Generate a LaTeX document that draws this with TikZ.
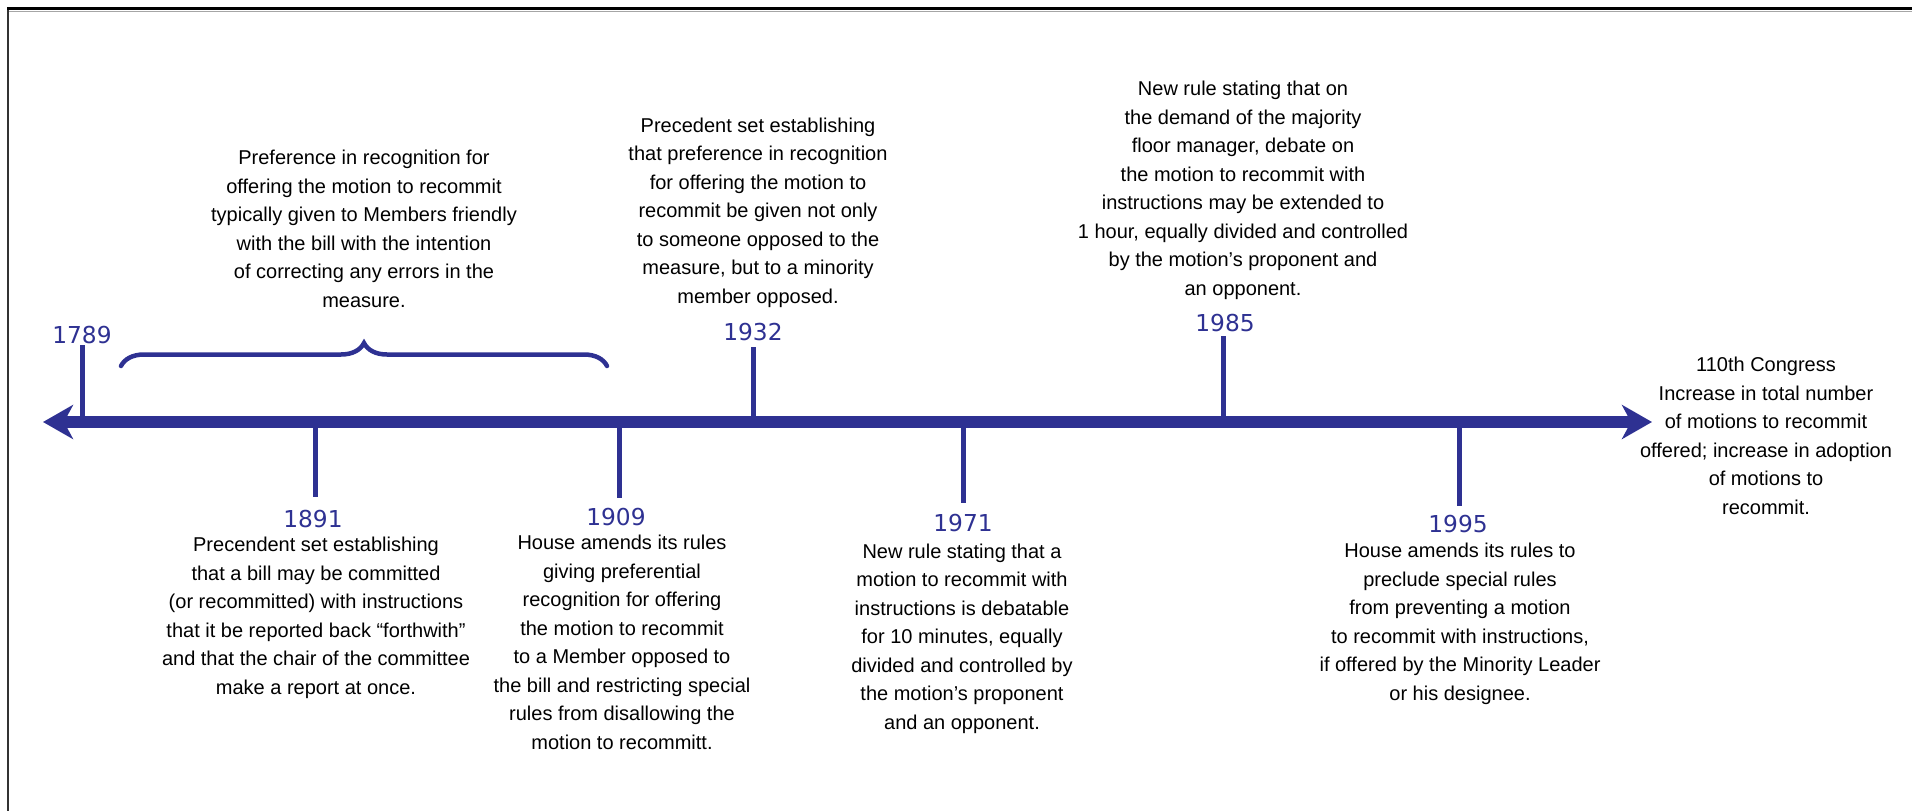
\documentclass[tikz,border=0pt]{standalone}
\usepackage{fontspec}
\setmainfont{Liberation Sans}
\newfontfamily\yearfont{DejaVu Sans}
\usetikzlibrary{arrows.meta,decorations.pathreplacing}
\definecolor{tlblue}{RGB}{46,49,146}

\begin{document}
\begin{tikzpicture}[x=1pt,y=-1pt,
  note/.style={align=center,inner sep=0pt,anchor=base,font=\fontsize{20}{28.5}\selectfont},
  year/.style={inner sep=0pt,anchor=base,text=tlblue,font=\yearfont\fontsize{23.3}{28}\selectfont},
  tick/.style={draw=tlblue,line width=5pt},
  axis/.style={draw=tlblue,line width=12pt,
    {Stealth[length=30pt,width=34pt,inset=9pt]}-{Stealth[length=30pt,width=34pt,inset=9pt]}}]
\useasboundingbox (0,0) rectangle (1912,811);
\draw[black!80,line width=1.5pt] (8,9) -- (8,811);
\draw[black,line width=2.5pt] (7,8.5) -- (1912,8.5);
\draw[black!35,line width=1pt] (9,11) -- (1912,11);

\coordinate (lend) at (43,422);
\coordinate (rend) at (1652,422);
\draw[axis] (lend) -- (rend);

\coordinate (a1789) at (82,422);
\coordinate (a1891) at (315,422);
\coordinate (a1909) at (619,422);
\coordinate (a1932) at (753,422);
\coordinate (a1971) at (963,422);
\coordinate (a1985) at (1223,422);
\coordinate (a1995) at (1459,422);

\coordinate (t1789) at (82,345);
\coordinate (t1891) at (315,497);
\coordinate (t1909) at (619,498);
\coordinate (t1932) at (753,347);
\coordinate (t1971) at (963,503);
\coordinate (t1985) at (1223,336);
\coordinate (t1995) at (1459,506);

\draw[tick] (a1789) -- (t1789);
\draw[tick] (a1891) -- (t1891);
\draw[tick] (a1909) -- (t1909);
\draw[tick] (a1932) -- (t1932);
\draw[tick] (a1971) -- (t1971);
\draw[tick] (a1985) -- (t1985);
\draw[tick] (a1995) -- (t1995);

\node[year](y1789) at (82,343){1789};
\node[year](y1891) at (313,527){1891};
\node[year](y1909) at (616,525){1909};
\node[year](y1932) at (753,340){1932};
\node[year](y1971) at (963,531){1971};
\node[year](y1985) at (1225,331){1985};
\node[year](y1995) at (1458,532){1995};

\coordinate (bl) at (121,366);
\coordinate (br) at (607,366);
\draw[tlblue,line width=4.5pt,line cap=round,decorate,decoration={brace,amplitude=23pt}] (bl) -- (br);

\node[note](early) at (364,307){Preference in recognition for\\offering the motion to recommit\\typically given to Members friendly\\with the bill with the intention\\of correcting any errors in the\\measure.};
\node[note](n1932) at (758,303){Precedent set establishing\\that preference in recognition\\for offering the motion to\\recommit be given not only\\to someone opposed to the\\measure, but to a minority\\member opposed.};
\node[note](n1985) at (1243,295){New rule stating that on\\the demand of the majority\\floor manager, debate on\\the motion to recommit with\\instructions may be extended to\\1 hour, equally divided and controlled\\by the motion’s proponent and\\an opponent.};
\node[note](n1891) at (316,694){Precendent set establishing\\that a bill may be committed\\(or recommitted) with instructions\\that it be reported back “forthwith”\\and that the chair of the committee\\make a report at once.};
\node[note](n1909) at (622,749){House amends its rules\\giving preferential\\recognition for offering\\the motion to recommit\\to a Member opposed to\\the bill and restricting special\\rules from disallowing the\\motion to recommitt.};
\node[note](n1971) at (962,729){New rule stating that a\\motion to recommit with\\instructions is debatable\\for 10 minutes, equally\\divided and controlled by\\the motion’s proponent\\and an opponent.};
\node[note](n1995) at (1460,700){House amends its rules to\\preclude special rules\\from preventing a motion\\to recommit with instructions,\\if offered by the Minority Leader\\or his designee.};
\node[note](n110) at (1766,514){110th Congress\\Increase in total number\\of motions to recommit\\offered; increase in adoption\\of motions to\\recommit.};
\end{tikzpicture}
\end{document}
